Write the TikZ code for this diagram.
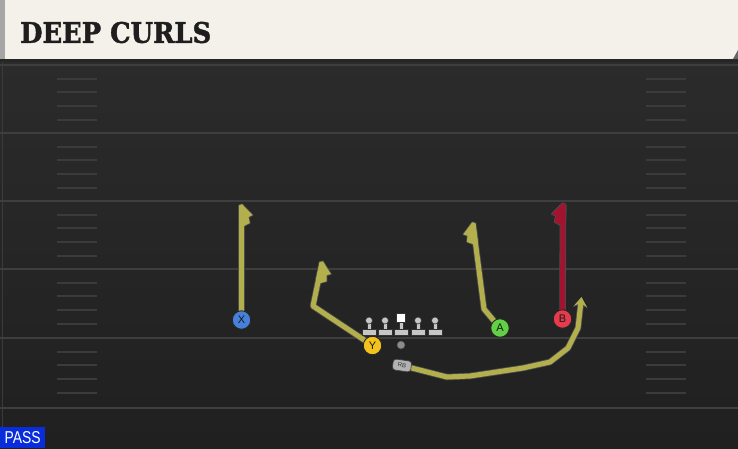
\documentclass[tikz,border=0pt]{standalone}
\usepackage{graphicx}
\usepackage{fontspec}
\setmainfont{Liberation Sans}
\newfontfamily\titlefont[FakeBold=1.6]{DejaVu Serif Bold}
\usetikzlibrary{arrows.meta}
\definecolor{cream}{HTML}{F4F1EA}
\definecolor{fieldtop}{HTML}{2B2B2B}
\definecolor{fieldbot}{HTML}{202020}
\definecolor{yardcol}{HTML}{3E3E3E}
\definecolor{hashcol}{HTML}{3B3B3B}
\definecolor{routecol}{HTML}{B3AF4C}
\definecolor{routered}{HTML}{A3132F}
\definecolor{xblue}{HTML}{4680D8}
\definecolor{yyellow}{HTML}{F4C21C}
\definecolor{agreen}{HTML}{62D044}
\definecolor{bred}{HTML}{E43C4A}
\definecolor{passblue}{HTML}{0A2DDB}
\definecolor{lmgrey}{HTML}{C6C6C6}
\definecolor{titlecol}{HTML}{1E1E1E}
\pgfdeclarelayer{bg}\pgfdeclarelayer{rt}
\pgfsetlayers{bg,rt,main}
\newcommand\allroutes[3]{%
  \draw[#1] (X.center) -- (tx);
  \draw[#1] (Y.center) -- (ky) -- (ty);
  \draw[#1] (A.center) -- (ka) -- (ta);
  \draw[#1=routered] (B.center) -- (tb);
  \draw[#1,#3] (RB.center) -- (r1) -- (r2) -- (r3) -- (r4) -- (r5) -- (r6) -- (r7);
  \pic[#2] at (tx) {hook};
  \pic[#2, rotate=-11.8] at (ty) {hook};
  \pic[#2, rotate=7.4, xscale=-1] at (ta) {hook};
  \pic[#2=routered, rotate=-0.5, xscale=-1] at (tb) {hook};
}
\begin{document}
\begin{tikzpicture}[x=1pt,y=-1pt,
  yard/.style={draw=yardcol, line width=2pt},
  hash/.style={draw=hashcol, line width=2pt},
  player/.style={circle, draw=black!85, line width=0.9pt, minimum size=18.5pt, inner sep=0pt, font=\fontsize{11}{11}\selectfont, text=black!90},
  lineout/.style={draw=black!70, line width=6.6pt, line join=round},
  linein/.style={draw=#1, line width=5pt, line join=round},
  linein/.default=routecol,
  hookout/.style={fill=black!70, draw=black!70, line width=1.6pt, line join=round},
  hookin/.style={fill=#1},
  hookin/.default=routecol,
  hook/.pic={\path[pic actions] (-2.5,18) -- (-2.5,-0.5) -- (0.5,-1.8) -- (11,9) -- (7,11) -- (8.3,17) -- (2.5,20) -- cycle;},
  lmpart/.style={fill=lmgrey, draw=black!80, line width=0.6pt},
  lineman/.pic={
    \path[lmpart] (-7,-6) rectangle (7,0);
    \path[lmpart] (-1.9,-13) rectangle (1.9,-6);
    \path[lmpart] (0,-14.5) circle[radius=3.5];},
  centreman/.pic={
    \path[lmpart] (-7,-6) rectangle (7,0);
    \path[lmpart] (-1.9,-13) rectangle (1.9,-6);
    \path[fill=white, draw=black!80, line width=0.6pt] (-4.6,-21.5) rectangle (4.6,-13);}
]
\useasboundingbox (0,0) rectangle (738,448);
% positions
\coordinate (tx) at (241.5,206);
\coordinate (ky) at (313,306);
\coordinate (ty) at (322,263);
\coordinate (ka) at (484,309);
\coordinate (ta) at (473,224);
\coordinate (tb) at (563,205);
\coordinate (r1) at (447,377);
\coordinate (r2) at (470,376);
\coordinate (r3) at (523,368);
\coordinate (r4) at (550,362);
\coordinate (r5) at (568,348);
\coordinate (r6) at (578,328);
\coordinate (r7) at (581.5,297);
\begin{pgfonlayer}{bg}
  \shade[top color=fieldtop, bottom color=fieldbot] (0,59) rectangle (738,448);
  \draw[draw=hashcol, line width=1pt] (2,59) -- (2,448);
  \foreach \yy in {65,133,201,269,338,408} \draw[yard] (0,\yy) -- (738,\yy);
  \foreach \b in {65,133,201,269,338}{
    \foreach \k in {1,2,3,4}{
      \draw[hash] (57,{\b+13.7*\k}) -- (97,{\b+13.7*\k});
      \draw[hash] (646,{\b+13.7*\k}) -- (686,{\b+13.7*\k});
    }
  }
  % header
  \fill[black!85] (0,58) rectangle (738,62);
  \fill[cream] (0,0) rectangle (738,59);
  \fill[black!35] (0,0) rectangle (5,59);
  \fill[black!60] (733,59) -- (738,50) -- (738,59) -- cycle;
\end{pgfonlayer}
% header title and pass tag
\node[anchor=west, inner sep=0pt, text=titlecol] (title) at (20,32.5) {\resizebox{191pt}{21pt}{\titlefont DEEP CURLS}};
\node[anchor=south west, fill=passblue, inner sep=0pt, minimum width=45pt, minimum height=21pt, text=white] (pass) at (0,448) {\resizebox{36pt}{12pt}{PASS}};
% players
\node[player, fill=xblue] (X) at (241.5,320) {X};
\node[player, fill=yyellow] (Y) at (372.5,345.5) {Y};
\node[player, fill=agreen] (A) at (500,328) {A};
\node[player, fill=bred] (B) at (562.5,319) {B};
\node[circle, fill=black!45, draw=black!70, line width=0.5pt, minimum size=8pt, inner sep=0pt] (ball) at (401,345) {};
\node[rounded corners=3pt, fill=black!30, draw=black!75, line width=0.7pt, minimum width=18.5pt, minimum height=11pt, inner sep=0pt, font=\fontsize{6}{6}\selectfont, text=black!80, rotate=-8] (RB) at (402,365.5) {RB};
% line
\pic at (369,335) {lineman};
\pic at (385,335) {lineman};
\pic at (401,335) {centreman};
\pic at (418,335) {lineman};
\pic at (435,335) {lineman};
% routes
\begin{pgfonlayer}{rt}
  \allroutes{lineout}{hookout}{-{Stealth[length=11pt,width=15pt,inset=4pt]}}
  \allroutes{linein}{hookin}{-{Stealth[length=9.5pt,width=13pt,inset=3.5pt]}}
\end{pgfonlayer}
\end{tikzpicture}
\end{document}
